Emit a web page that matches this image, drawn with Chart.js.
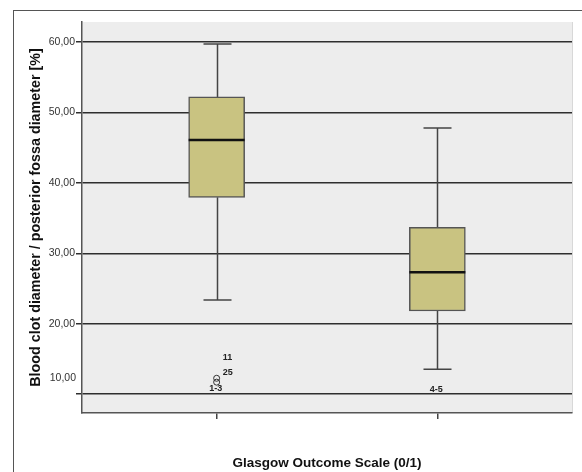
<!DOCTYPE html>
<html>
<head>
<meta charset="utf-8">
<script src="https://cdn.jsdelivr.net/npm/chart.js@4/dist/chart.umd.min.js"></script>
<style>
html,body{margin:0;padding:0;background:#fff;}
#wrap{width:582px;height:472px;}
</style>
</head>
<body>
<div id="wrap"><canvas id="c" width="582" height="472"></canvas></div>
<script>
// ---- data ----
const categories = ['0', '1'];
const categoryX = [1, 2];
const whiskerMin = [23.35, 13.55];
const q1 = [37.94, 21.8];
const median = [46.1, 27.3];
const q3 = [52.2, 33.7];
const whiskerMax = [59.7, 47.8];
const outlierGroup = [1, 1];
const outlierValues = [12.25, 11.7];
const caseLabelGroup = [1, 1, 1, 2];
const caseLabelValues = [15.2, 13.0, 10.85, 10.7];
const caseLabelTexts = ['11', '25', '1-3', '4-5'];
const yTickValues = [10, 20, 30, 40, 50, 60];
const yMin = 7.32, yMax = 62.84;
const xMin = 0.39, xMax = 2.61;
const yTitle = 'Blood clot diameter / posterior fossa diameter [%]';
const xTitle = 'Glasgow Outcome Scale (0/1)';

const FONT = '"Liberation Sans", Arial, sans-serif';
const fmt = v => v.toFixed(2).replace('.', ',');

const boxPlugin = {
  id: 'boxExtras',
  beforeDraw(chart) {
    const ctx = chart.ctx, a = chart.chartArea;
    ctx.save();
    ctx.fillStyle = '#ffffff';
    ctx.fillRect(0, 0, chart.width, chart.height);
    ctx.strokeStyle = '#555';
    ctx.lineWidth = 1;
    ctx.strokeRect(13.5, 10.5, 700, 700);
    ctx.fillStyle = '#ededed';
    ctx.fillRect(a.left, a.top, a.right - a.left, a.bottom - a.top);
    ctx.strokeStyle = '#d8d8d8';
    ctx.beginPath();
    ctx.moveTo(a.right + 0.5, a.top);
    ctx.lineTo(a.right + 0.5, a.bottom);
    ctx.stroke();
    ctx.restore();
  },
  beforeDatasetsDraw(chart) {
    const ctx = chart.ctx, xs = chart.scales.x, ys = chart.scales.y;
    ctx.save();
    ctx.strokeStyle = '#444';
    ctx.lineWidth = 1.5;
    categoryX.forEach((cx, i) => {
      const px = Math.round(xs.getPixelForValue(cx)) + 0.5;
      const half = 14;
      const yMaxP = ys.getPixelForValue(whiskerMax[i]);
      const yMinP = ys.getPixelForValue(whiskerMin[i]);
      ctx.beginPath();
      ctx.moveTo(px, yMaxP); ctx.lineTo(px, ys.getPixelForValue(q3[i]));
      ctx.moveTo(px, yMinP); ctx.lineTo(px, ys.getPixelForValue(q1[i]));
      ctx.moveTo(px - half, yMaxP); ctx.lineTo(px + half, yMaxP);
      ctx.moveTo(px - half, yMinP); ctx.lineTo(px + half, yMinP);
      ctx.stroke();
    });
    ctx.restore();
  },
  afterDatasetsDraw(chart) {
    const ctx = chart.ctx, xs = chart.scales.x, ys = chart.scales.y;
    ctx.save();
    const meta = chart.getDatasetMeta(0);
    ctx.strokeStyle = '#111';
    ctx.lineWidth = 2.5;
    meta.data.forEach((bar, i) => {
      const w = bar.width;
      const y = ys.getPixelForValue(median[i]);
      ctx.beginPath();
      ctx.moveTo(bar.x - w / 2, y); ctx.lineTo(bar.x + w / 2, y);
      ctx.stroke();
    });
    // case labels
    ctx.fillStyle = '#222';
    ctx.font = 'bold 9px ' + FONT;
    ctx.textBaseline = 'middle';
    caseLabelTexts.forEach((t, i) => {
      const px = xs.getPixelForValue(caseLabelGroup[i]);
      const py = ys.getPixelForValue(caseLabelValues[i]);
      if (t.includes('-')) { ctx.textAlign = 'center'; ctx.fillText(t, px - 1, py); }
      else { ctx.textAlign = 'left'; ctx.fillText(t, px + 6, py); }
    });
    // shifted lowest y tick label
    ctx.fillStyle = '#333';
    ctx.font = '10.5px ' + FONT;
    ctx.textAlign = 'right';
    const y10 = ys.getPixelForValue(yTickValues[0]);
    ctx.fillText(fmt(yTickValues[0]), ys.right - 6, y10 - 16);
    ctx.restore();
  }
};

new Chart(document.getElementById('c'), {
  type: 'bar',
  data: {
    datasets: [
      {
        type: 'bar',
        label: 'box',
        data: categoryX.map((x, i) => ({ x: x, y: [q1[i], q3[i]] })),
        backgroundColor: '#c9c381',
        borderColor: '#555',
        borderWidth: 1.5,
        borderSkipped: false,
        barThickness: 56,
        order: 2
      },
      {
        type: 'scatter',
        label: 'outliers',
        data: outlierValues.map((v, i) => ({ x: outlierGroup[i], y: v })),
        pointStyle: 'circle',
        pointRadius: 3,
        backgroundColor: 'rgba(0,0,0,0)',
        borderColor: '#333',
        borderWidth: 1,
        order: 1
      }
    ]
  },
  options: {
    responsive: false,
    devicePixelRatio: 1,
    animation: false,
    layout: { padding: { left: 13, top: 22, right: 10, bottom: 0 } },
    plugins: { legend: { display: false }, tooltip: { enabled: false } },
    scales: {
      x: {
        type: 'linear',
        offset: false,
        min: xMin, max: xMax,
        afterBuildTicks: s => { s.ticks = categoryX.map(v => ({ value: v })); },
        afterFit: s => { s.height = 59; },
        grid: { display: true, offset: false, drawOnChartArea: false, drawTicks: true, tickLength: 6, color: '#444', lineWidth: 1.5 },
        border: { display: true, color: '#555', width: 1.5 },
        ticks: { display: false },
        title: { display: true, text: xTitle, color: '#111', font: { family: FONT, size: 13.5, weight: 'bold' }, padding: { top: 0, bottom: 1 } }
      },
      y: {
        type: 'linear',
        min: yMin, max: yMax,
        afterBuildTicks: s => { s.ticks = yTickValues.map(v => ({ value: v })); },
        afterFit: s => { s.width = 69; },
        grid: { color: '#2e2e2e', lineWidth: 1.5, tickLength: 6, drawTicks: true },
        border: { display: true, color: '#555', width: 1.5 },
        ticks: {
          color: '#333', padding: 1,
          font: { family: FONT, size: 10.5 },
          callback: v => (v === yTickValues[0] ? '' : fmt(v))
        },
        title: { display: true, text: yTitle, color: '#111', font: { family: FONT, size: 14.3, weight: 'bold' }, padding: { top: 14, bottom: 0 } }
      }
    }
  },
  plugins: [boxPlugin]
});
</script>
</body>
</html>
